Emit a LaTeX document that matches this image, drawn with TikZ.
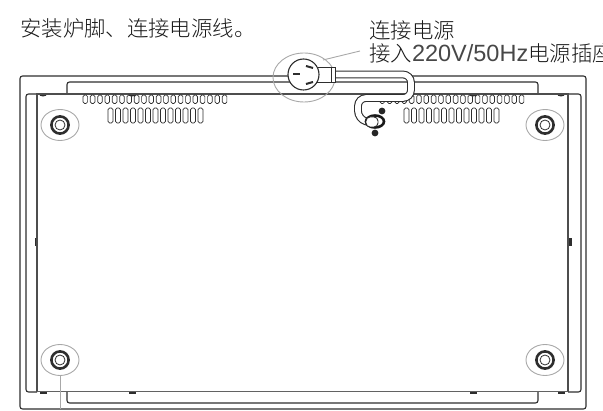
\documentclass[tikz,border=0pt]{standalone}
\usepackage{fontspec}
\setmainfont{Noto Sans CJK SC Light}
\newfontfamily\latinpart{Liberation Sans}
\usetikzlibrary{shapes.geometric}
\definecolor{inkline}{gray}{0.18}
\definecolor{markgray}{gray}{0.66}
\tikzstyle{frameline}=[draw=inkline,line width=1.1pt,rounded corners=2.5pt]
\tikzstyle{plateline}=[draw=inkline!85,line width=1.7pt]
\tikzstyle{slotbox}=[draw=inkline,line width=0.7pt,rounded corners=1.6pt]
\tikzstyle{marker}=[ellipse,draw=markgray,line width=0.9pt,inner sep=0pt]
\tikzstyle{label}=[anchor=west,inner sep=0pt,text=black!90,font=\fontsize{21.4}{21.4}\selectfont]
\tikzstyle{bump}=[fill=inkline,draw=none]
\begin{document}
\begin{tikzpicture}[x=1pt,y=-1pt]
  \useasboundingbox (0,0) rectangle (603,411);

  \node[label] (title) at (20,28) {安装炉脚、连接电源线。};
  \node[label] (plugtop) at (369,30) {连接电源};
  \node[label] (plugsub) at (369,53) {接入{\latinpart\fontsize{23.5}{23.5}\selectfont\color{black!72}220V/50Hz}电源插座};

  \draw[frameline] (20,76) rectangle (586,409);
  \draw[frameline] (67,93) -- (67,82) -- (538,82) -- (538,93);
  \draw[frameline] (67,392) -- (67,403) -- (538,403) -- (538,392);
  \draw[frameline] (37,94) -- (26,94) -- (26,392) -- (37,392);
  \draw[frameline] (568,94) -- (581,94) -- (581,392) -- (568,392);

  \foreach \bx in {43,132,473,561} {
    \fill[bump] (\bx-4,94) arc[start angle=180,end angle=360,x radius=4,y radius=-2.5] -- cycle;
    \fill[bump] (\bx-3.5,392) rectangle (\bx+3.5,394.5);
  }
  \fill[bump] (34.5,238) rectangle (37,246);
  \fill[bump] (569,238) rectangle (571.5,246);

  \draw[plateline] (37,94) -- (568,94);
  \draw[plateline,line width=2.2pt] (37,93.5) -- (37,392);
  \draw[plateline,line width=2.2pt] (568,93.5) -- (568,392);
  \draw[plateline,line width=1.3pt,draw=inkline!75] (37,391.5) -- (568,391.5);

  \foreach \i in {0,...,19} {
    \draw[slotbox] ({83+7.33*\i},95) rectangle ({87.6+7.33*\i},103.5);
    \draw[slotbox] ({380+7.33*\i},95) rectangle ({384.6+7.33*\i},103.5);
  }
  \foreach \i in {0,...,12} {
    \draw[slotbox] ({108+7.5*\i},108) rectangle ({113+7.5*\i},123);
    \draw[slotbox] ({404+7.5*\i},108) rectangle ({409+7.5*\i},123);
  }

  \foreach \fx/\fy/\fname in {60/125/ftl,545/125/ftr,60/360/fbl,545/360/fbr} {
    \node[marker,minimum width=38pt,minimum height=31pt] (\fname) at (\fx,\fy) {};
    \draw[inkline,line width=2.6pt] (\fx,\fy) circle (8.6);
    \draw[inkline,line width=0.8pt] (\fx,\fy) circle (5);
  }
  \coordinate (footend) at (60,409);
  \draw[markgray,line width=0.9pt] (fbl) ++(0,15.5) -- (footend);

  \node[marker,minimum width=62pt,minimum height=49pt] (plugmark) at (304,77.5) {};
  \coordinate (plugend) at (360,51);
  \draw[markgray,line width=0.9pt] (323,60) -- (plugend);

  \draw[inkline,line width=1.1pt,double=white,double distance=5.6pt,rounded corners=8pt]
    (333,74.5) -- (411,74.5) -- (411,98) -- (358,98) -- (358,119) -- (368,122);

  \fill[black!85] (382,111) circle (3.4);
  \fill[black!85] (375,133) circle (3.4);
  \draw[black!90,line width=2.6pt] (375,121.5) ellipse (9 and 6);
  \draw[inkline,fill=white,line width=0.9pt,rounded corners=4pt] (366,117) rectangle (378,127);

  \draw[inkline,fill=white,line width=0.9pt] (317,67.5) rectangle (335,82);
  \draw[inkline,line width=0.8pt] (331.5,67.5) -- (331.5,82);
  \node[circle,draw=inkline,fill=white,line width=1.1pt,minimum size=31pt,inner sep=0pt] (plug) at (303.5,74.5) {};
  \draw[inkline,line width=2pt] (293,74.5) -- (300,74.5);
  \draw[inkline,line width=2pt] (306,66) -- (313,68);
  \draw[inkline,line width=2pt] (306,84) -- (313,82);
\end{tikzpicture}
\end{document}
